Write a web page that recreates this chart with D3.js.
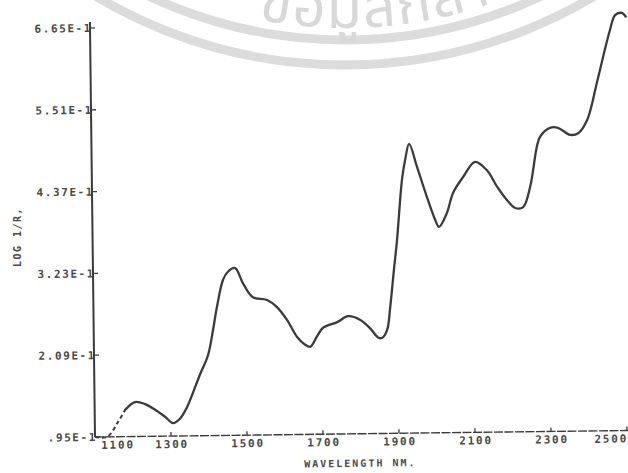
<!DOCTYPE html>
<html>
<head>
<meta charset="utf-8">
<script src="https://cdn.jsdelivr.net/npm/d3@7"></script>
<style>
html,body{margin:0;padding:0;background:#fff;}
svg{display:block;}
</style>
</head>
<body>
<svg id="chart" width="628" height="473"></svg>
<script>
// ---- data ----
const wavelengths = [1100,1132,1161,1180,1206,1233,1259,1285,1306,1324,1343,1357,1378,1400,1414,1425,1442,1455,1474,1494,1520,1557,1583,1609,1635,1656,1669,1687,1703,1741,1770,1801,1827,1848,1858,1872,1881,1892,1901,1916,1925,1936,1956,1981,2002,2012,2033,2050,2077,2109,2140,2166,2192,2213,2234,2253,2272,2281,2307,2328,2360,2381,2405,2432,2454,2468,2482,2500,2510];
const logValues = [0.095,0.095,0.1155,0.132,0.143,0.140,0.132,0.122,0.113,0.119,0.135,0.152,0.180,0.207,0.242,0.274,0.312,0.323,0.328,0.307,0.287,0.283,0.273,0.255,0.231,0.220,0.217,0.231,0.243,0.251,0.259,0.254,0.242,0.229,0.228,0.239,0.271,0.323,0.364,0.448,0.476,0.498,0.466,0.424,0.392,0.382,0.401,0.429,0.451,0.472,0.460,0.437,0.418,0.407,0.408,0.436,0.492,0.506,0.518,0.518,0.508,0.510,0.528,0.580,0.626,0.653,0.674,0.677,0.672];
const xTickValues = [1100,1300,1500,1700,1900,2100,2300,2500];
const xTickLabels = ["1100","1300","1500","1700","1900","2100","2300","2500"];
const yTickValues = [0.095,0.209,0.323,0.437,0.551,0.665];
const yTickLabels = [".95E-1","2.09E-1","3.23E-1","4.37E-1","5.51E-1","6.65E-1"];
const xTitle = "WAVELENGTH NM.";
const yTitle = "LOG 1/R,";
const watermarkText = "ข้อมูลกลาง";
const dottedUntil = 1180;

// ---- layout ----
const svg = d3.select("#chart");
const ink = "#3b3b3b";
const mono = "'DejaVu Sans Mono', 'Liberation Mono', monospace";

// watermark (faint ring + text)
const wm = svg.append("g");
const wcx = 345, wcy = -420;
[485, 460].forEach(r => wm.append("circle").attr("cx", wcx).attr("cy", wcy).attr("r", r)
  .attr("fill", "none").attr("stroke", "#dcdcdc").attr("stroke-width", 9));
const rb = 448;
const ang = xx => Math.asin((xx - wcx) / rb);
const pt = xx => [xx, wcy + rb * Math.cos(ang(xx))];
const p0 = pt(258), p1 = pt(660);
wm.append("path").attr("id", "wmpath").attr("fill", "none")
  .attr("d", `M${p0[0]},${p0[1]} A${rb},${rb} 0 0,0 ${p1[0]},${p1[1]}`);
wm.append("text").attr("font-family", "'Noto Sans Thai','Noto Sans','DejaVu Sans',sans-serif")
  .attr("font-size", 58).attr("fill", "#d8d8d8").attr("letter-spacing", 2)
  .append("textPath").attr("href", "#wmpath").text(watermarkText);

const x0 = 95, y0 = 437;
const x = d3.scaleLinear().domain([1100, 2500]).range([x0, 627]);
const y = d3.scaleLinear().domain([0.095, 0.665]).range([y0, 28]);

const g = svg.append("g").attr("transform", `rotate(-0.7, ${x0}, ${y0})`);

// y axis
g.append("line").attr("x1", x0).attr("x2", x0).attr("y1", y(0.095)).attr("y2", y(0.665) - 6)
  .attr("stroke", ink).attr("stroke-width", 2);
// x axis
g.append("line").attr("x1", x0).attr("x2", 650).attr("y1", y0).attr("y2", y0)
  .attr("stroke", ink).attr("stroke-width", 1.4).attr("stroke-dasharray", "9,1.5");

// y ticks + labels
yTickValues.forEach((v, i) => {
  g.append("line").attr("x1", x0).attr("x2", x0 + 5).attr("y1", y(v)).attr("y2", y(v))
    .attr("stroke", ink).attr("stroke-width", 1.3);
  g.append("text").attr("x", x0 + 2).attr("y", y(v) + 4)
    .attr("text-anchor", "end").attr("font-family", mono).attr("font-size", 11)
    .attr("font-weight", "bold").attr("letter-spacing", 1.6).attr("fill", "#4a4a4a")
    .text(yTickLabels[i]);
});

// x ticks + labels
const last = xTickValues.length - 1;
xTickValues.forEach((v, i) => {
  g.append("line").attr("x1", x(v)).attr("x2", x(v)).attr("y1", y0).attr("y2", y0 - 4)
    .attr("stroke", ink).attr("stroke-width", 1.3);
  const anchor = i === 0 ? "start" : (i === last ? "end" : "middle");
  const tx = i === 0 ? x(v) + 6 : (i === last ? x(v) + 1 : x(v) + 1);
  g.append("text").attr("x", tx).attr("y", y0 + 12)
    .attr("text-anchor", anchor).attr("font-family", mono)
    .attr("font-size", 11).attr("font-weight", "bold").attr("letter-spacing", 1.8)
    .attr("fill", "#4a4a4a").text(xTickLabels[i]);
});

// axis titles
g.append("text").attr("x", 360).attr("y", 470).attr("text-anchor", "middle")
  .attr("font-family", mono).attr("font-size", 10).attr("font-weight", "bold")
  .attr("letter-spacing", 2).attr("fill", "#4a4a4a").text(xTitle);
svg.append("text").attr("transform", "translate(21,237) rotate(-90)").attr("text-anchor", "middle")
  .attr("font-family", mono).attr("font-size", 10).attr("font-weight", "bold")
  .attr("letter-spacing", 1.5).attr("fill", "#4a4a4a").text(yTitle);

// spectrum
const pts = wavelengths.map((w, i) => ({w, v: logValues[i]}));
const line = d3.line().x(d => x(d.w)).y(d => y(d.v)).curve(d3.curveCatmullRom.alpha(0.5));
const dotted = pts.filter(d => d.w <= dottedUntil);
const solid = pts.filter(d => d.w >= dottedUntil);
g.append("path").attr("d", line(dotted)).attr("fill", "none").attr("stroke", ink)
  .attr("stroke-width", 2).attr("stroke-dasharray", "4,3");
g.append("path").attr("d", line(solid)).attr("fill", "none").attr("stroke", ink)
  .attr("stroke-width", 2.3).attr("stroke-linejoin", "round").attr("stroke-linecap", "round");
</script>
</body>
</html>
